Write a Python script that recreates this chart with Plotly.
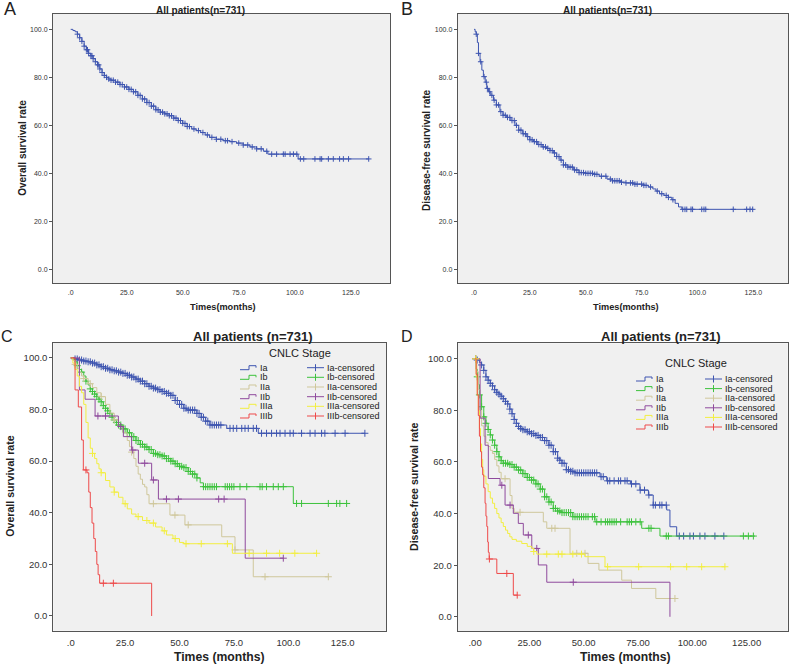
import plotly.graph_objects as go

W, H = 800, 669

# ---------------- data ----------------
STAGES = ["Ia", "Ib", "IIa", "IIb", "IIIa", "IIIb"]
STAGE_COLORS = ["#3E55B0", "#3DC23D", "#CFC79B", "#8F4A9D", "#F2EE40", "#EE4A4A"]
ALL_COLOR = "#3E55B0"

X_TICKS = [0, 25, 50, 75, 100, 125]
X_TEXT_1 = [".0", "25.0", "50.0", "75.0", "100.0", "125.0"]
X_TEXT_D = [".00", "25.00", "50.00", "75.00", "100.00", "125.00"]
Y_TICKS = [0, 20, 40, 60, 80, 100]
Y_TEXT = ["0.0", "20.0", "40.0", "60.0", "80.0", "100.0"]

TITLE_AB = "All patients(n=731)"
TITLE_CD = "All patients (n=731)"

# Panel A: overall survival, all patients (time, survival%)
A_OS = [(0,100),(1,99.5),(2,99),(3,98),(4,96.5),(5,95),(6,93),(7,91.5),(8,90),(9,89),(10,87.8),
        (11,86.5),(12,85.2),(13,83.5),(14,82),(15,80.8),(16,80),(17,79.3),(18,78.8),(20,78),(22,77),
        (24,76),(26,75),(28,74),(30,72.5),(32,71),(34,69.5),(36,68),(38,66.5),(40,65.5),(42,64.8),
        (44,64),(46,63),(48,62),(50,60.8),(52,59.5),(54,58.5),(56,57.8),(58,57),(60,56),(62,55),
        (65,54.2),(68,53.6),(71,53.2),(74,52.6),(77,51.8),(80,51),(83,50.2),(86,49.2),(88,48),
        (101.5,46),(133,46)]
A_CENS = [3,4,5,6,7,7.5,8,9,9.5,10,11,12,12.5,13,14,15,16,17,18,19,20,21,22,23,24,25,26,27,28,29,
          30,31,32,33,34,35,36,37,38,39,40,41,42,43,44,45,46,47,48,49,50,51,52,53,55,57,59,61,63,65,
          67,69,70,72,75,77,79,81,83,85,87.5,89.7,91.9,94.9,95.7,97.9,99.4,100.9,102.5,104,109,
          111.3,112,115,117.2,120,121.7,124,133]

# Panel B: disease-free survival, all patients
B_DFS = [(0,100),(0.5,99),(1,98),(1.5,94.5),(2,90),(2.7,86.5),(3.5,83),(4.2,80.3),(5,78),(5.7,75.4),
         (6.5,74),(7.5,72.5),(8.7,70.5),(10,68.5),(11.6,65.7),(13,64.2),(14.6,63.3),(16.5,62),
         (18.3,60),(20,58),(21.8,56.5),(23.6,55.3),(25,54),(26.6,53.2),(28.5,52),(30.5,51),
         (32.5,50.4),(34,49.5),(35.5,48.5),(37,47),(38.5,45.5),(40,43.5),(42,42.6),(44.6,41.4),
         (47,40.3),(50,40),(53.5,39.6),(56,38.8),(59.5,37.6),(62,36.9),(65.5,36.3),(68,36),
         (71.5,35.5),(76,35),(78,34.3),(80,33.5),(81.4,32.6),(83,31.5),(85,30.8),(87,30),(88.5,29),
         (90,27.5),(91.5,26),(93,25),(125,25)]
B_CENS = [1,2,3,4.5,5.5,6,7,8,9,10,11,12,13,14,15,16,17,18,19,20,21,22,23,24,25,26,27,28,29,30,31,
          32,33,34,35,36,37,38,39,40,41,42,43,44,45,46,47,48,49,50,51,52,53,54,55,57,59,61,62,63,64,
          65,66,68,70,71,72,73,75,76,77,79,82,84,86,87,89,93.4,94.4,95.2,97.1,97.8,101.9,102.9,
          103.7,116,122,123.5,124.7]

# Panel C: overall survival by CNLC stage
C_IA = [(0,100),(2,99.6),(4,99.2),(6,98.8),(8,98.5),(10,98),(12,97.3),(14,96.6),(16,96),(18,95.4),
        (20,95),(22,94.5),(24,94),(26,93.3),(28,92.6),(30,91.8),(32,91),(34,90),(36,89),(38,88.3),
        (40,87.7),(42,87),(44,86.3),(46,85.5),(48,83.5),(50,82),(52,80.5),(53.3,79.8),(58,78.5),
        (60,77),(62,75.5),(64,74),(71.7,72.7),(86.2,70.8),(135.2,70.8)]
C_IB = [(0,100),(1,99.5),(2,98.5),(3,97),(4,95.5),(5,94.5),(6,93),(7,91),(8,89.5),(9,88),(10,87),
        (11,86),(12,85),(13,84),(14,83),(15,81.5),(16,80.5),(17,79.5),(18,78.5),(19,77),(20,76),
        (21,75),(22,74),(24,72.5),(26,71),(28,69.5),(30,68),(32,66.5),(34,65.5),(36,64.5),(38,63),
        (40,62.5),(42,62),(44,61),(46,60),(48,59),(50,58),(52,57.5),(54,56),(56,55),(58,53.5),
        (59.5,51.6),(61,50.1),(102.3,43.6),(126.8,43.6)]
C_IIA = [(0,100),(1,99),(2,97.5),(3,96),(4,94.5),(5,93),(6,92),(8,90),(10,88.5),(12,86.5),(14,85),
         (16,82),(18,78.6),(20,76),(22,73.5),(24,71),(26,68),(27,65.6),(28,63.5),(29,61),(30,58),
         (31,55),(32,53),(33,51),(34,50),(35,47),(36,43.5),(45.6,39.1),(52.5,35.3),(69.4,30.7),
         (75.5,25.6),(83.9,15.2),(118.4,15.2)]
C_IIB = [(0,100),(4,87.6),(6.6,84),(11.2,77.5),(21.9,73.4),(24.2,69.5),(28,64.3),(31.1,59.2),
         (37.2,52.7),(40.3,45.3),(80.2,22.4),(97.7,22.4)]
C_IIIA = [(0,100),(1,98),(2,95.5),(3,93),(4,89),(5,86.5),(6,82),(7,75),(8,69),(9,65),(10,63),(11,61),
          (12,59),(13,57),(14,55.5),(16,52.5),(18,50),(20,48),(22,46),(24,43.5),(26,41.5),(28,39.5),
          (30,38.5),(33,37),(36,36),(39,34.5),(42,33),(44,31.4),(47,30),(50,28.5),(52,28),(74.3,24.3),
          (113,24.3)]
C_IIIB = [(0,100),(2,87.6),(3.5,81),(5,68.2),(5.8,56.6),(7.5,55.5),(8.3,48),(9,42),(9.8,36),(10.6,30),
          (11.3,25),(12,20),(12.6,16),(13.3,12.7),(37.2,0)]
C_CENS = [
    [2,3,4,5,6,7,8,9,10,11,12,13,14,15,16,17,18,19,20,21,22,23,24,25,26,27,28,29,30,31,32,33,34,35,
     36,37,38,39,40,41,42,43,44,45,46,47,48,49,50,51,52,53,54,55,56,57,58,59,60,61,62,63,64,65,66,
     67,68,69,73.2,74.7,76.3,78.6,80.1,81.6,83.9,85.4,87.7,90,92.3,94.6,96.2,98.5,100.8,102.3,
     106.1,110,112.3,115.3,116.8,121.5,126.1,135.2],
    [3,5,7,9,10,11,12,13,14,15,16,17,18,19,20,21,22,23,24,25,26,27,28,29,30,31,32,33,34,35,36,37,38,
     39,40,41,42,43,44,45,46,47,48,49,50,51,52,53,54,55,56,57,58,61,62,63,64,65,66,67,71,72,73,74,
     75,77.8,80.9,87,88,90,93.1,95.4,97.7,103.8,106.1,118.4,122.2,123.7,126.8],
    [2,6,9,14,20,28,38,47.9,54,75.5,89.3,118.4],
    [12.5,16,23,28.5,34,38,44,49.5,68,70.5,97.7],
    [10,14,20,25,31,35,38,43,48,53,60,72,82,90,96,103,113],
    [7,15,19.6],
]

# Panel D: disease-free survival by CNLC stage
D_IA = [(0,100),(1,99.5),(2,98.5),(3,97.6),(4,95.5),(5,93),(6,91.7),(7,90.5),(8,89.5),(9,88),(10,87),
        (11,86.3),(12,85.5),(13,84.5),(14,83.5),(15,82.5),(16,80.5),(17,78.7),(18,76.5),(19,75),
        (20,73.8),(21,73),(22,72.5),(24,71.7),(26,71),(28,70.3),(30,69.5),(32,68.3),(34,66.5),(36,64),
        (38,61.5),(39,60.7),(40,59.5),(42,57),(44,56.4),(46,55.8),(57.5,54.3),(60.6,52.7),(71.5,51.5),
        (75.9,49.1),(79.8,47.2),(82,43.3),(88.2,41.4),(89.7,34.9),(92.8,31.3),(114.5,31.3)]
D_IB = [(0,100),(0.5,96),(1,93),(1.5,90),(2,86),(3,81.4),(4,77.5),(5,75),(6,72.6),(7,70.5),(8,68.5),
        (9,66.5),(10,64),(11,62),(12,60.5),(13,59.5),(16,59),(18,58),(20,56.9),(22,55.5),(24,54),
        (26,53),(28,51.5),(30,49.5),(32,46.5),(34,44.5),(36,42),(38,41),(40,40.4),(45,38.8),
        (55.2,36.8),(76.7,34.3),(85.1,31.3),(128.8,31.3)]
D_IIA = [(0,100),(0.8,95),(1.5,88),(2.3,80),(3,74),(4,70),(5,67.5),(6,66),(7,64.5),(8,63.3),(9,61),
         (10,58.5),(11,56),(12,53.5),(16.1,47),(17,42),(18,40.5),(31.4,36.8),(33,34.3),(43.7,24.6),
         (52,20.7),(57,18.1),(67.5,14.2),(72,11),(83.2,7.1),(92,7.1)]
D_IIB = [(0,100),(2.3,77),(4.6,66.5),(6.1,53.6),(11.5,51),(13.8,43.3),(17.6,40.1),(19.9,36.2),
         (22.2,31.7),(26.1,26.5),(29.1,20.1),(33,13.4),(89.7,0)]
D_IIIA = [(0,100),(0.5,93),(1,86),(1.5,80),(2,73),(2.5,67),(3,61),(3.5,57),(4,54.5),(5,51.5),(6,48.5),
          (7,46),(8,44),(9,42),(10,40),(11,38.3),(12,36.5),(13,35),(14,33.6),(15,32.3),(16,31),(17,30),
          (19,29.3),(21.5,28.4),(24,27.3),(26.1,26.5),(27,25.3),(28.4,24.3),(50.6,23.3),(59.8,19.4),
          (115,19.4)]
D_IIIB = [(0,100),(0.5,94),(1,86),(1.5,78),(2,70),(2.5,64),(3,58),(3.5,55),(4,50),(4.6,44),(5,39),
          (5.4,35),(5.8,29),(6.1,25),(6.5,22.4),(10,16.8),(17.6,8.4),(19.4,8.4)]
D_CENS = [
    [1,3,4,5,6,7,8,9,10,11,12,13,14,15,16,17,18,19,20,21,22,23,24,25,26,27,28,29,30,31,32,33,34,35,
     36,37,38,39,40,41,42,43,44,45,46,47,48,49,50,51,52,53,54,55,56,58,59,61,62,64,66,67,69,70,72,
     74,76,78,80,82,83,85,86,88,94,96,98.9,100.5,103.5,105.8,110.4,114.5],
    [0.3,1,2,3,4,5,6,7,8,9,10,11,12,13,14,15,16,17,18,19,20,21,22,23,24,25,26,27,28,29,30,31,32,33,
     34,35,36,37,38,39,40,41,42,43,44,45,46,47,48,49,50,51,52,54,55,56,58,60,61,62,63,64,65,67,70,
     71,72,74,76,80,81,88,89,123.5,125.8,128.1],
    [0.3,13.8,20.7,35.3,36.8,46.8,50.6,92],
    [0.3,12.3,16.1,24.5,28.4,45.2],
    [0.3,27,33,38.3,40,45,49,61,75.3,90,97.4,104.3,115],
    [6.6,14.6,19.4],
]

C_CURVES = [C_IA, C_IB, C_IIA, C_IIB, C_IIIA, C_IIIB]
D_CURVES = [D_IA, D_IB, D_IIA, D_IIB, D_IIIA, D_IIIB]


# ---------------- helpers ----------------
def surv_at(curve, t):
    v = curve[0][1]
    for tt, s in curve:
        if tt <= t:
            v = s
        else:
            break
    return v


def px(x):
    return x / W


def py(y):
    return 1 - y / H


fig = go.Figure()


def add_curve(curve, cens, color, ax, msize):
    xa, ya = ax
    fig.add_trace(go.Scatter(
        x=[p[0] for p in curve], y=[p[1] for p in curve], mode="lines",
        line=dict(color=color, width=1, shape="hv"), xaxis=xa, yaxis=ya,
        showlegend=False, hoverinfo="skip"))
    fig.add_trace(go.Scatter(
        x=list(cens), y=[surv_at(curve, t) for t in cens], mode="markers",
        marker=dict(symbol="cross-thin", size=msize, line=dict(color=color, width=1)),
        xaxis=xa, yaxis=ya, showlegend=False, hoverinfo="skip"))


add_curve(A_OS, A_CENS, ALL_COLOR, ("x", "y"), 4)
add_curve(B_DFS, B_CENS, ALL_COLOR, ("x2", "y2"), 4)
for i in range(6):
    add_curve(C_CURVES[i], C_CENS[i], STAGE_COLORS[i], ("x3", "y3"), 5)
for i in range(6):
    add_curve(D_CURVES[i], D_CENS[i], STAGE_COLORS[i], ("x4", "y4"), 5)

# panel frames in pixels: (left, right, top, bottom), data ranges
PANELS = [
    dict(frame=(53, 390, 14, 283), xr=(-7.9, 142.5), yr=(-5.7, 106.4), xt=X_TEXT_1, fs=7),
    dict(frame=(457.7, 788, 14, 283), xr=(-7.3, 140.5), yr=(-5.7, 106.4), xt=X_TEXT_1, fs=7),
    dict(frame=(53.3, 386, 342.7, 630.7), xr=(-8, 144.9), yr=(-5.7, 105.9), xt=X_TEXT_1, fs=9.5),
    dict(frame=(457.7, 787.7, 343.3, 631), xr=(-8, 143.9), yr=(-5.5, 106), xt=X_TEXT_D, fs=9.5),
]

FONT = "Liberation Sans, Arial, sans-serif"
axes = {}
for i, p in enumerate(PANELS):
    l, r, t, b = p["frame"]
    sfx = "" if i == 0 else str(i + 1)
    common = dict(showgrid=False, zeroline=False, showline=True, mirror=True,
                  linecolor="#555555", linewidth=1, ticks="outside", ticklen=3,
                  tickfont=dict(size=p["fs"], color="#333333", family=FONT))
    axes["xaxis" + sfx] = dict(domain=[px(l), px(r)], range=list(p["xr"]),
                               anchor="y" + sfx, tickvals=X_TICKS, ticktext=p["xt"],
                               tickcolor="rgba(0,0,0,0)", **common)
    axes["yaxis" + sfx] = dict(domain=[py(b), py(t)], range=list(p["yr"]),
                               anchor="x" + sfx, tickvals=Y_TICKS, ticktext=Y_TEXT,
                               tickcolor="#555555", **common)

ann = []


def text(x, y, s, size, bold=False, angle=0, xanchor="center"):
    ann.append(dict(x=px(x), y=py(y), xref="paper", yref="paper", showarrow=False,
                    text=("<b>%s</b>" % s) if bold else s, textangle=angle,
                    xanchor=xanchor, yanchor="middle",
                    font=dict(size=size, color="#222222", family=FONT)))


# panel letters
text(10, 9, "A", 18)
text(407, 9, "B", 18)
text(7, 336, "C", 16)
text(407, 336, "D", 16)
# titles
text(200.5, 10, TITLE_AB, 10, True)
text(607.5, 10, TITLE_AB, 10, True)
text(253.3, 336, TITLE_CD, 13, True)
text(660.7, 336, TITLE_CD, 13, True)
# axis titles
text(22.5, 148.3, "Overall survival rate", 10, True, -90)
text(426, 150, "Disease-free survival rate", 10, True, -90)
text(10, 486.7, "Overall survival rate", 10.6, True, -90)
text(414, 487, "Disease-free survival rate", 10.6, True, -90)
text(222.5, 306.7, "Times(months)", 9.2, True)
text(625.8, 306.7, "Times(months)", 9.2, True)
text(219.5, 656.7, "Times (months)", 12.2, True)
text(625.8, 656.7, "Times (months)", 12.2, True)

# legends for C and D
shapes = []
LEGENDS = [
    dict(title=(300, 353), rows=[367.7, 377.3, 387, 396.7, 406.3, 416], lx=240, cx=307),
    dict(title=(696, 363.3), rows=[379, 388.6, 398.2, 407.8, 417.4, 427], lx=636, cx=705),
]
for lg in LEGENDS:
    text(lg["title"][0], lg["title"][1], "CNLC Stage", 11)
    for j, yy in enumerate(lg["rows"]):
        c = STAGE_COLORS[j]
        x0 = lg["lx"]
        path = "M %f,%f L %f,%f L %f,%f L %f,%f L %f,%f" % (
            px(x0), py(yy + 2), px(x0 + 9), py(yy + 2), px(x0 + 9), py(yy - 2),
            px(x0 + 16), py(yy - 2), px(x0 + 16), py(yy))
        shapes.append(dict(type="path", path=path, xref="paper", yref="paper",
                           line=dict(color=c, width=1)))
        text(x0 + 18, yy, STAGES[j], 9, xanchor="left")
        cx = lg["cx"]
        shapes.append(dict(type="line", xref="paper", yref="paper", x0=px(cx), x1=px(cx + 17),
                           y0=py(yy), y1=py(yy), line=dict(color=c, width=1)))
        shapes.append(dict(type="line", xref="paper", yref="paper", x0=px(cx + 8.5),
                           x1=px(cx + 8.5), y0=py(yy - 3.5), y1=py(yy + 3.5),
                           line=dict(color=c, width=1)))
        text(cx + 18, yy, STAGES[j] + "-censored", 9, xanchor="left")

fig.update_layout(
    width=W, height=H, autosize=False,
    margin=dict(l=0, r=0, t=0, b=0),
    paper_bgcolor="white", plot_bgcolor="#F0F0F0",
    showlegend=False, annotations=ann, shapes=shapes,
    font=dict(family=FONT),
    **axes,
)

fig.write_html("out.html", config={"displayModeBar": False})

# remove the browser's default page margin so the figure sits at the window origin
with open("out.html", "r", encoding="utf-8") as f:
    html = f.read()
html = html.replace("<head>", "<head><style>html,body{margin:0;padding:0;overflow:hidden;}</style>", 1)
with open("out.html", "w", encoding="utf-8") as f:
    f.write(html)
